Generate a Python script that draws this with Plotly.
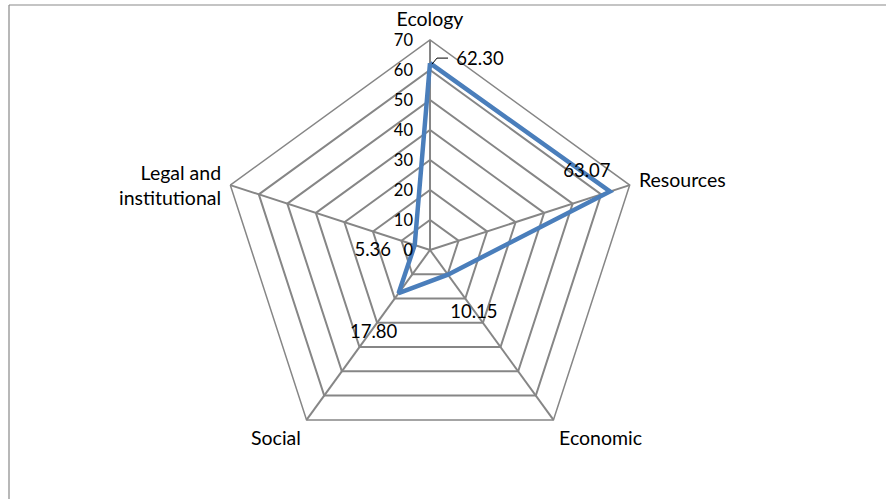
import math
import plotly.graph_objects as go

# Assessment dimensions and their scores
dimensions = ["Ecology", "Resources", "Economic", "Social", "Legal and institutional"]
axis_text = ["Ecology", "Resources", "Economic<br>", "Social<br>", "<br>Legal and<br>institutional"]
scores = [62.30, 63.07, 10.15, 17.80, 5.36]
ring_values = [0, 10, 20, 30, 40, 50, 60, 70]

# Pixel offsets (right, down) of each value label centre from its point
label_offsets = [(50, -3), (-23, -19), (26, 39), (-25, 40), (-42, 6)]
# Pixel offset of the right end of each ring label from the ring on the top spoke
ring_label_offset = (-17, 2)

FONT = "Lato"
GRID = "#868686"
LINE = "#4A7EBB"

W, H = 886, 499
CX, CY, RAD = 430, 250, 210          # polar centre / radius in pixels
R_MAX = ring_values[-1]
PX = R_MAX / RAD                      # radial units per pixel

angles = [i * 360 / len(dimensions) for i in range(len(dimensions))]


def shifted(r, theta, dx, dy):
    """Move a polar point by (dx right, dy down) pixels; return (r, theta)."""
    t = math.radians(theta)
    x = r / PX * math.sin(t) + dx
    up = r / PX * math.cos(t) - dy
    return math.hypot(x, up) * PX, math.degrees(math.atan2(x, up)) % 360


fig = go.Figure()

# data series on the category (pentagon) subplot
fig.add_trace(go.Scatterpolar(
    r=scores + scores[:1], theta=dimensions + dimensions[:1],
    mode="lines", line=dict(color=LINE, width=4.5),
    hoverinfo="skip", showlegend=False, subplot="polar",
))

# value labels on the overlaid numeric-angle subplot
lab = [shifted(r, a, dx, dy) for r, a, (dx, dy) in zip(scores, angles, label_offsets)]
fig.add_trace(go.Scatterpolar(
    r=[p[0] for p in lab], theta=[p[1] for p in lab],
    mode="text", text=[f"{v:.2f}" for v in scores],
    textposition="middle center",
    textfont=dict(family=FONT, size=18.5, color="#000000"),
    hoverinfo="skip", showlegend=False, subplot="polar2",
))

# leader line for the Ecology label
lead = [shifted(scores[0], angles[0], dx, dy) for dx, dy in [(2, 1), (7, -5), (18, -5)]]
fig.add_trace(go.Scatterpolar(
    r=[p[0] for p in lead], theta=[p[1] for p in lead],
    mode="lines", line=dict(color="#000000", width=1),
    hoverinfo="skip", showlegend=False, subplot="polar2",
))

# ring value labels beside the top spoke
rl = [shifted(v, 0, *ring_label_offset) for v in ring_values]
fig.add_trace(go.Scatterpolar(
    r=[p[0] for p in rl], theta=[p[1] for p in rl],
    mode="text", text=[str(v) for v in ring_values],
    textposition="middle left",
    textfont=dict(family=FONT, size=16.5, color="#000000"),
    hoverinfo="skip", showlegend=False, subplot="polar2",
))

domain = dict(x=[(CX - RAD) / W, (CX + RAD) / W],
              y=[(H - CY - RAD) / H, (H - CY + RAD) / H])

fig.update_layout(
    width=W, height=H,
    margin=dict(l=0, r=0, t=0, b=0),
    paper_bgcolor="white", plot_bgcolor="white",
    font=dict(family=FONT, size=19.5, color="#000000"),
    polar=dict(
        domain=domain,
        gridshape="linear",
        bgcolor="white",
        angularaxis=dict(
            type="category", categoryorder="array", categoryarray=dimensions,
            rotation=90, direction="clockwise",
            tickmode="array", tickvals=dimensions, ticktext=axis_text,
            showline=True, linecolor=GRID, linewidth=1.5,
            showgrid=True, gridcolor=GRID, gridwidth=1.5,
            ticks="outside", ticklen=5, tickcolor="rgba(0,0,0,0)",
            tickfont=dict(family=FONT, size=19.5, color="#000000"),
        ),
        radialaxis=dict(
            range=[0, R_MAX], tickmode="array", tickvals=ring_values,
            angle=90, showticklabels=False, showline=False,
            showgrid=True, gridcolor=GRID, gridwidth=1.5, ticks="",
        ),
    ),
    polar2=dict(
        domain=domain,
        bgcolor="rgba(0,0,0,0)",
        angularaxis=dict(
            rotation=90, direction="clockwise", thetaunit="degrees",
            visible=False, showgrid=False, showline=False,
        ),
        radialaxis=dict(
            range=[0, R_MAX], visible=False, showgrid=False, showline=False,
        ),
    ),
    shapes=[
        dict(type="line", xref="paper", yref="paper",
             x0=9 / W, x1=1.01, y0=(H - 5) / H, y1=(H - 5) / H,
             line=dict(color="#898989", width=1.2)),
        dict(type="line", xref="paper", yref="paper",
             x0=9 / W, x1=9 / W, y0=-0.01, y1=(H - 5) / H,
             line=dict(color="#898989", width=1.2)),
    ],
)

fig.write_html("out.html")
